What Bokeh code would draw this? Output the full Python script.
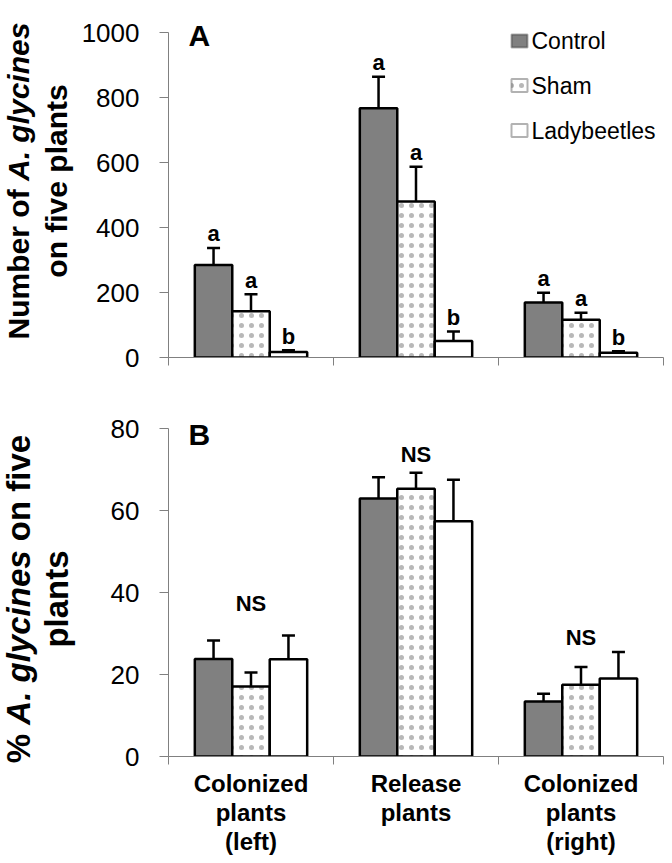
import math
from bokeh.plotting import figure
from bokeh.models import (ColumnDataSource, Whisker, TeeHead, Label, FixedTicker,
                          BoxAnnotation, Range1d, Div)
from bokeh.layouts import column, row
from bokeh.embed import file_html
from bokeh.resources import INLINE
from bokeh.core.properties import value

# ---------------- data ----------------
groups = ["Colonized\nplants\n(left)", "Release\nplants", "Colonized\nplants\n(right)"]
treatments = ["Control", "Sham", "Ladybeetles"]

# Panel A: number of A. glycines on five plants (mean, SE)
count_control = [285, 767, 169]
count_control_se = [52, 97, 30]
count_sham = [142, 480, 116]
count_sham_se = [53, 107, 22]
count_lady = [17, 51, 15]
count_lady_se = [5, 29, 4]
letters_control = ["a", "a", "a"]
letters_sham = ["a", "a", "a"]
letters_lady = ["b", "b", "b"]

# Panel B: % A. glycines on five plants (mean, SE)
pct_control = [23.8, 62.9, 13.4]
pct_control_se = [4.5, 5.2, 1.9]
pct_sham = [17.1, 65.3, 17.5]
pct_sham_se = [3.4, 3.9, 4.3]
pct_lady = [23.7, 57.4, 19.0]
pct_lady_se = [5.8, 10.1, 6.5]
ns_labels = ["NS", "NS", "NS"]
ns_label_y = [37.4, 73.7, 29.0]

count_ticks = [0, 200, 400, 600, 800, 1000]
pct_ticks = [0, 20, 40, 60, 80]

# ---------------- styling ----------------
FONT = "Liberation Sans"
AXIS_GREY = "#808080"
x_centers = [0.5, 1.5, 2.5]
group_edges = [0, 1, 2, 3]
bar_w = 0.227
offsets = [-bar_w, 0.0, bar_w]
bar_styles = [
    dict(fill_color="#808080"),
    dict(fill_color="white", hatch_pattern="dot", hatch_color="#b8b8b8",
         hatch_scale=10, hatch_weight=1),
    dict(fill_color="white"),
]
DIV_W = 76


def build_panel(height, border_top, border_bottom, y_max, y_top, ticks,
                series, errors, x_labels):
    p = figure(width=672 - DIV_W, height=height, x_range=Range1d(0, 3),
               y_range=Range1d(0, y_top), output_backend="svg", toolbar_location=None,
               min_border_left=168 - DIV_W, min_border_right=9,
               min_border_top=border_top, min_border_bottom=border_bottom)
    p.outline_line_color = None
    p.grid.visible = False
    sources = []
    for i in range(3):
        xs = [c + offsets[i] for c in x_centers]
        upper = [v + e for v, e in zip(series[i], errors[i])]
        src = ColumnDataSource(dict(x=xs, top=series[i], upper=upper))
        sources.append(src)
        p.vbar(x="x", top="top", width=bar_w, source=src, line_color="black",
               line_width=2.5, **bar_styles[i])
        p.add_layout(Whisker(source=src, base="x", lower="top", upper="upper",
                             dimension="height", line_width=2.5, line_color="black",
                             upper_head=TeeHead(size=13, line_width=2.5, line_color="black"),
                             lower_head=None))
    # x axis: group labels at centres, tick marks at group boundaries
    p.xaxis.ticker = FixedTicker(ticks=x_centers, minor_ticks=group_edges)
    p.xaxis.major_label_overrides = {c: t for c, t in zip(x_centers, x_labels)}
    p.xaxis.axis_line_color = AXIS_GREY
    p.xaxis.major_tick_line_color = None
    p.xaxis.major_tick_out = 0
    p.xaxis.major_tick_in = 0
    p.xaxis.minor_tick_line_color = AXIS_GREY
    p.xaxis.minor_tick_out = 8
    p.xaxis.minor_tick_in = 0
    p.xaxis.major_label_standoff = 5
    p.xaxis.major_label_text_font = FONT
    p.xaxis.major_label_text_font_style = "bold"
    p.xaxis.major_label_text_font_size = "24px"
    p.xaxis.major_label_text_line_height = 1.08
    p.xaxis.major_label_text_color = "black"
    # y axis
    p.yaxis.ticker = FixedTicker(ticks=ticks)
    p.yaxis.bounds = (0, y_max)
    p.yaxis.axis_line_color = AXIS_GREY
    p.yaxis.major_tick_line_color = AXIS_GREY
    p.yaxis.major_tick_out = 9
    p.yaxis.major_tick_in = 0
    p.yaxis.minor_tick_line_color = None
    p.yaxis.major_label_standoff = 20
    p.yaxis.major_label_text_font = FONT
    p.yaxis.major_label_text_font_size = "26px"
    p.yaxis.major_label_text_color = "black"
    return p, sources


def title_div(lines_html, height, cx, cy, size, pitch):
    html = (f'<div style="position:relative;width:{DIV_W}px;height:{height}px;">'
            f'<div style="position:absolute;left:{cx}px;top:{cy}px;'
            f'transform:translate(-50%,-50%) rotate(-90deg);white-space:nowrap;'
            f"text-align:center;font-family:'Liberation Sans',Arial,sans-serif;"
            f'font-weight:bold;font-size:{size}px;line-height:{pitch}px;color:black;">'
            f'{lines_html}</div></div>')
    return Div(text=html, width=DIV_W, height=height, margin=0)


# ---------------- panel A ----------------
H_A = 392
pA, srcA = build_panel(H_A, 12, 35, 1000, 1000 * 345 / 325, count_ticks,
                       [count_control, count_sham, count_lady],
                       [count_control_se, count_sham_se, count_lady_se],
                       ["", "", ""])
for src, letters in zip(srcA, [letters_control, letters_sham, letters_lady]):
    src.data["label"] = letters
    pA.text(x="x", y="upper", text="label", source=src, text_align="center",
            text_baseline="alphabetic", y_offset=-14, text_font=value(FONT),
            text_font_style="bold", text_font_size="22px", text_color="black")

pA.add_layout(Label(x=20, y=322, x_units="screen", y_units="screen", text="A",
                    text_font=FONT, text_font_style="bold", text_font_size="30px",
                    text_baseline="alphabetic", text_color="black"))

# legend (small squares lined up with the text)
legend_rows = [316.5, 272, 227]
for i, name in enumerate(treatments):
    yc = legend_rows[i]
    pA.add_layout(BoxAnnotation(left=343, right=359, bottom=yc - 6.5, top=yc + 6.5,
                                left_units="screen", right_units="screen",
                                bottom_units="screen", top_units="screen",
                                line_color="black", line_width=2, fill_alpha=1,
                                **bar_styles[i]))
    pA.add_layout(Label(x=363, y=yc, x_units="screen", y_units="screen", text=name,
                        text_font=FONT, text_font_size="23px", text_baseline="middle",
                        text_color="black"))

divA = title_div("Number of <i>A. glycines</i><br>on five plants", H_A, 38, 181, 30, 38)

# ---------------- panel B ----------------
H_B = 863 - H_A
pB, srcB = build_panel(H_B, 16, H_B - 16 - 348, 80, 80 * 348 / 328, pct_ticks,
                       [pct_control, pct_sham, pct_lady],
                       [pct_control_se, pct_sham_se, pct_lady_se],
                       groups)
ns_src = ColumnDataSource(dict(x=x_centers, y=ns_label_y, t=ns_labels))
pB.text(x="x", y="y", text="t", source=ns_src, text_align="center", text_baseline="middle",
        text_font=value(FONT), text_font_style="bold", text_font_size="22px",
        text_color="black")
pB.add_layout(Label(x=20, y=322, x_units="screen", y_units="screen", text="B",
                    text_font=FONT, text_font_style="bold", text_font_size="30px",
                    text_baseline="alphabetic", text_color="black"))

divB = title_div("% <i>A. glycines</i> on five<br>plants", H_B, 38, 207, 33, 38)

layout = column(row(divA, pA, spacing=0), row(divB, pB, spacing=0), spacing=0)
open("out.html", "w").write(file_html(layout, INLINE))
